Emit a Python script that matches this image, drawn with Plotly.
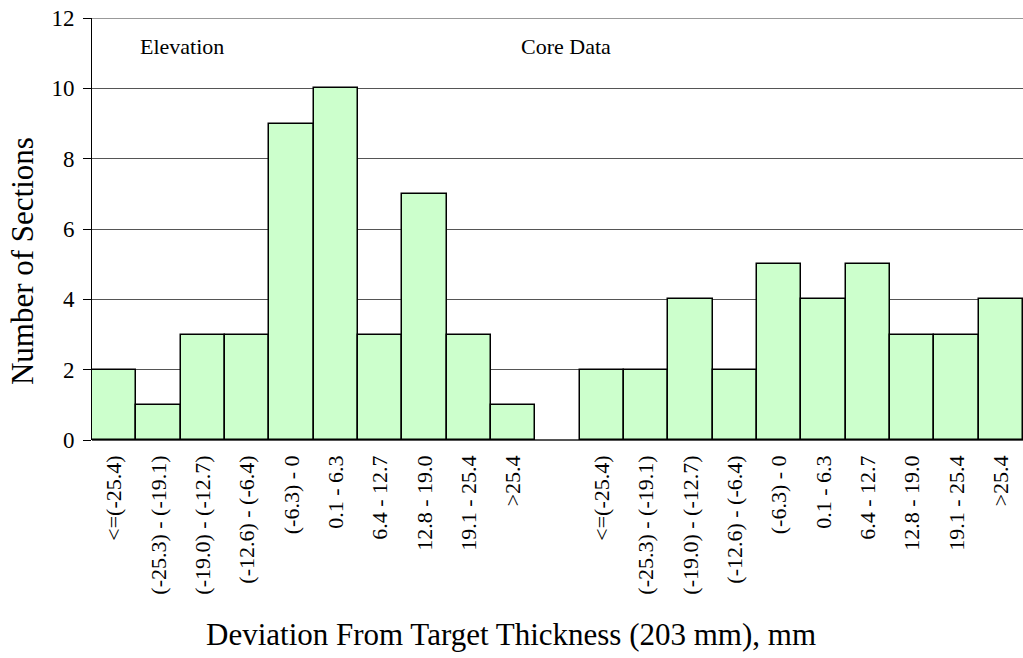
import plotly.graph_objects as go

categories = ["<=(-25.4)", "(-25.3) - (-19.1)", "(-19.0) - (-12.7)", "(-12.6) - (-6.4)",
              "(-6.3) - 0", "0.1 - 6.3", "6.4 - 12.7", "12.8 - 19.0", "19.1 - 25.4", ">25.4"]
elevation = [2, 1, 3, 3, 9, 10, 3, 7, 3, 1]
core_data = [2, 2, 4, 2, 5, 4, 5, 3, 3, 4]
group_labels = ["Elevation", "Core Data"]
x_title = "Deviation From Target Thickness (203 mm), mm"
y_title = "Number of Sections"
y_max = 12

n = len(categories)
x_elev = list(range(n))
x_core = [n + 1 + i for i in range(n)]

fig = go.Figure()
fig.add_trace(go.Bar(x=x_elev, y=elevation, width=1.0,
                     marker=dict(color="#CCFFCC", line=dict(color="black", width=1.5)),
                     showlegend=False))
fig.add_trace(go.Bar(x=x_core, y=core_data, width=1.0,
                     marker=dict(color="#CCFFCC", line=dict(color="black", width=1.5)),
                     showlegend=False))

font_family = "Liberation Serif, Times New Roman, serif"

# top gridline at the maximum of the value axis
fig.add_shape(type="line", xref="paper", yref="y", x0=0, x1=1, y0=y_max, y1=y_max,
              line=dict(color="#777777", width=1.5), layer="below")

fig.add_annotation(x=1.53, y=11.2, xref="x", yref="y", text=group_labels[0], showarrow=False,
                   font=dict(family=font_family, size=22, color="black"))
fig.add_annotation(x=10.2, y=11.2, xref="x", yref="y", text=group_labels[1], showarrow=False,
                   font=dict(family=font_family, size=22, color="black"))

# axis titles
fig.add_annotation(x=0.45, y=-0.462, xref="paper", yref="paper", text=x_title, showarrow=False,
                   xanchor="center", yanchor="middle",
                   font=dict(family=font_family, size=31, color="black"))
fig.add_annotation(x=-0.0752, y=0.424, xref="paper", yref="paper", text=y_title, showarrow=False,
                   xanchor="center", yanchor="middle", textangle=-90,
                   font=dict(family=font_family, size=31, color="black"))

fig.update_layout(
    width=1023, height=658,
    margin=dict(l=92, r=0, t=18, b=218),
    plot_bgcolor="white", paper_bgcolor="white",
    bargap=0,
    font=dict(family=font_family, color="black"),
    xaxis=dict(
        range=[-0.5, 2 * n + 0.5],
        tickvals=x_elev + x_core,
        ticktext=categories + categories,
        tickangle=-90,
        tickfont=dict(size=22, family=font_family, color="black"),
        ticklabelstandoff=10,
        showgrid=False,
        showline=False,
        ticks="",
        zeroline=False,
        automargin=False,
    ),
    yaxis=dict(
        range=[0, y_max],
        dtick=2,
        tickfont=dict(size=23, family=font_family, color="black"),
        ticklabelstandoff=4,
        showgrid=True, gridcolor="#555555", gridwidth=1,
        showline=True, linecolor="black", linewidth=1,
        ticks="outside", ticklen=8, tickcolor="black",
        zeroline=True, zerolinecolor="#555555", zerolinewidth=1.5,
        automargin=False,
    ),
)

fig.write_html("out.html", config={"displayModeBar": False},
               post_script="document.body.style.margin='0';")
